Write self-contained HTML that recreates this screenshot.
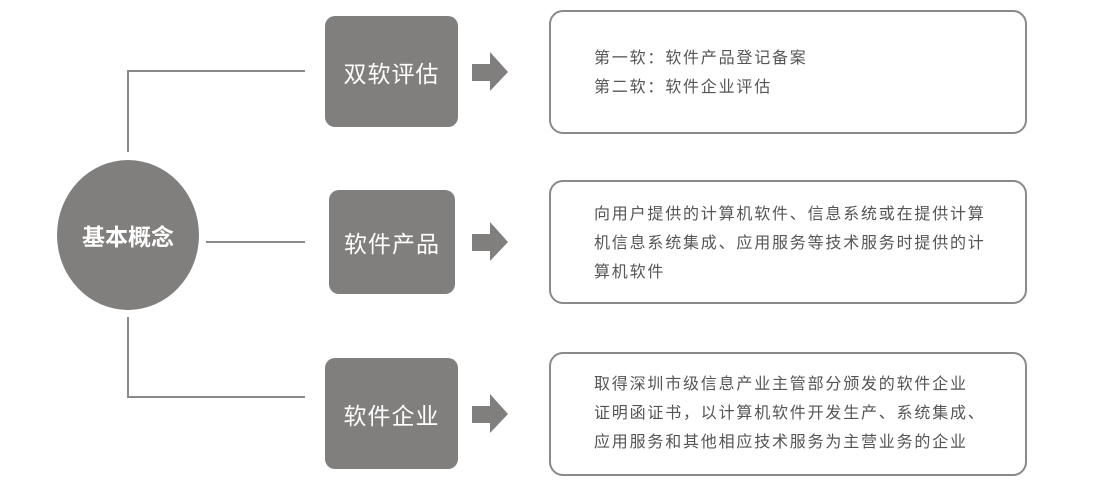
<!DOCTYPE html>
<html><head><meta charset="utf-8"><style>
body{margin:0;width:1100px;height:480px;background:#fff;position:relative;overflow:hidden;font-family:"Liberation Sans","Noto Sans CJK SC",sans-serif}
.a{position:absolute}
.g{background:#817f7e;border-radius:10px;color:#fff;font-size:23px;display:flex;align-items:center;justify-content:center;letter-spacing:1px}
.r{border:2px solid #8a8a8a;border-radius:14px;box-sizing:border-box;color:#555;font-size:16px;letter-spacing:1.8px;line-height:29px;padding-left:43px;white-space:nowrap}
.l{background:#8a8a8a}
</style></head><body>
<div class="a l" style="left:127px;top:70px;width:2px;height:82px"></div>
<div class="a l" style="left:127px;top:70px;width:178px;height:2px"></div>
<div class="a l" style="left:206px;top:241px;width:99px;height:2px"></div>
<div class="a l" style="left:127px;top:317px;width:2px;height:81px"></div>
<div class="a l" style="left:127px;top:396px;width:178px;height:2px"></div>
<div class="a" style="left:57px;top:160px;width:142px;height:150px;border-radius:50%;background:#817f7e;color:#fff;font-weight:bold;font-size:23px;display:flex;align-items:center;justify-content:center">基本概念</div>
<div class="a g" style="left:325px;top:16px;width:133px;height:111px">双软评估</div>
<div class="a g" style="left:329px;top:190px;width:126px;height:104px">软件产品</div>
<div class="a g" style="left:325px;top:358px;width:133px;height:111px">软件企业</div>
<svg class="a" style="left:0;top:0" width="1100" height="480">
<g fill="#817f7e">
<polygon points="472,64 490,64 490,52 508,72 490,91 490,81 472,81"/>
<polygon points="472,234 490,234 490,222 508,242 490,261 490,251 472,251"/>
<polygon points="472,406 490,406 490,394 508,414 490,433 490,423 472,423"/>
</g></svg>
<div class="a r" style="left:549px;top:10px;width:478px;height:124px;padding-top:32px">第一软：软件产品登记备案<br>第二软：软件企业评估</div>
<div class="a r" style="left:549px;top:180px;width:478px;height:124px;padding-top:18px">向用户提供的计算机软件、信息系统或在提供计算<br>机信息系统集成、应用服务等技术服务时提供的计<br>算机软件</div>
<div class="a r" style="left:549px;top:352px;width:478px;height:124px;padding-top:16px">取得深圳市级信息产业主管部分颁发的软件企业<br>证明函证书，以计算机软件开发生产、系统集成、<br>应用服务和其他相应技术服务为主营业务的企业</div>
</body></html>
